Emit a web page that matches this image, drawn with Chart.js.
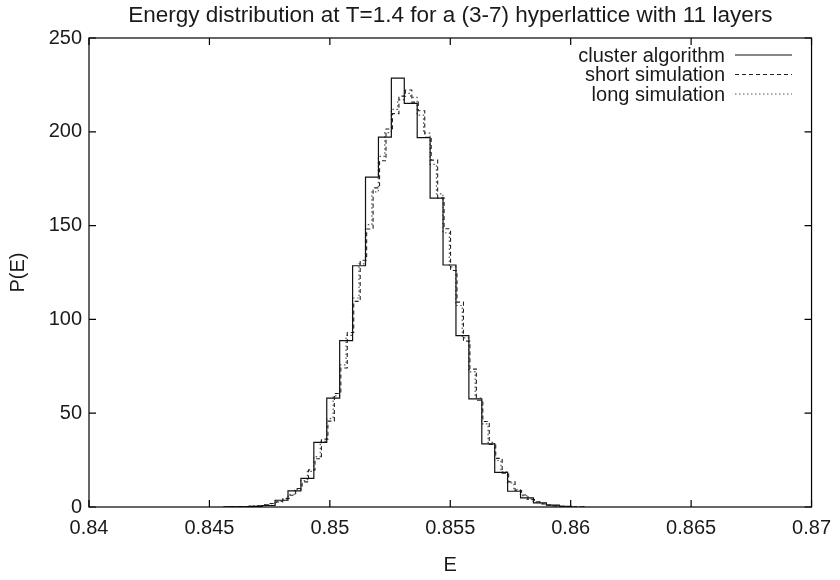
<!DOCTYPE html>
<html>
<head>
<meta charset="utf-8">
<script src="https://cdn.jsdelivr.net/npm/chart.js@4.4.0/dist/chart.umd.min.js"></script>
<style>
  html, body { margin: 0; padding: 0; background: #ffffff; }
  #wrap { width: 840px; height: 580px; }
</style>
</head>
<body>
<div id="wrap"><canvas id="c" width="840" height="580"></canvas></div>
<script>
// ---------------- data ----------------
const chartTitle = 'Energy distribution at T=1.4 for a (3-7) hyperlattice with 11 layers';
const xAxisTitle = 'E';
const yAxisTitle = 'P(E)';
const seriesNames = ['cluster algorithm', 'short simulation', 'long simulation'];

const xTickValues = [0.84, 0.845, 0.85, 0.855, 0.86, 0.865, 0.87];
const xTickLabels = ['0.84', '0.845', '0.85', '0.855', '0.86', '0.865', '0.87'];
const yTickValues = [0, 50, 100, 150, 200, 250];
const yTickLabels = ['0', '50', '100', '150', '200', '250'];

// cluster algorithm: histogram, bin left edge = clusterStart + i*clusterBinWidth
const clusterStart = 0.84558;
const clusterBinWidth = 0.00053646;
const clusterValues = [0.05, 0.1, 0.3, 0.8, 3.6, 8.6, 15.3, 34.5, 58, 88.7, 128.6, 175.8, 197.2,
  228.6, 215.2, 196.9, 164.6, 129, 91.3, 57.6, 33.7, 18.5, 8.4, 4.9, 2.2, 1.0, 0.4];

// short simulation: finer histogram
const shortStart = 0.84590;
const shortBinWidth = 0.000268;
const shortValues = [0.1, 0.1, 0.3, 0.4, 0.7, 1.2, 1.9, 2.7, 4.6, 6.3, 9.9, 13.4, 19.8, 25.7, 36.2,
  45.8, 60.5, 74.1, 93.0, 109.6, 131.5, 148.2, 170.1, 184.6, 201.5, 209.7, 219.0, 222.3, 215.8, 211.2,
  197.1, 184.9, 164.8, 148.3, 126.1, 109.2, 88.4, 73.5, 56.9, 45.6, 33.4, 25.9, 18.0, 13.4, 8.8,
  6.4, 4.0, 2.8, 1.6, 1.1, 0.6, 0.4, 0.2, 0.1, 0.1];

// long simulation: finer histogram
const longStart = 0.84585;
const longBinWidth = 0.000268;
const longValues = [0.1, 0.2, 0.2, 0.5, 0.7, 1.1, 1.8, 3.0, 4.2, 6.8, 9.4, 14.1, 19.0, 26.9, 35.0,
  47.1, 59.2, 75.8, 91.5, 111.4, 129.6, 150.5, 168.0, 186.9, 199.6, 212.0, 217.1, 220.5, 218.3, 208.9,
  199.3, 182.6, 166.9, 146.2, 128.0, 107.4, 90.1, 72.0, 58.1, 44.3, 34.5, 24.8, 18.7, 12.8, 9.3,
  6.0, 4.2, 2.6, 1.8, 1.0, 0.7, 0.4, 0.2, 0.1, 0.1];

// ---------------- helpers ----------------
function stepPoints(start, width, values) {
  const pts = values.map((v, i) => ({ x: start + i * width, y: v }));
  pts.push({ x: start + values.length * width, y: values[values.length - 1] });
  return pts;
}

const FONT = "'Liberation Sans', Arial, Helvetica, sans-serif";
const TEXT = '#1a1a1a';
const styles = [
  { color: '#111111', dash: [], width: 1.2 },
  { color: '#222222', dash: [4, 3], width: 1.1 },
  { color: '#555555', dash: [1.5, 2.5], width: 1.2 }
];

const framePlugin = {
  id: 'frame',
  afterDraw(chart) {
    const ctx = chart.ctx;
    const a = chart.chartArea;
    const xs = chart.scales.x, ys = chart.scales.y;
    ctx.save();
    ctx.strokeStyle = '#000';
    ctx.lineWidth = 1.2;
    ctx.setLineDash([]);
    ctx.strokeRect(a.left, a.top, a.right - a.left, a.bottom - a.top);
    const tl = 7;
    ctx.beginPath();
    xTickValues.forEach(v => {
      const px = xs.getPixelForValue(v);
      ctx.moveTo(px, a.bottom); ctx.lineTo(px, a.bottom - tl);
      ctx.moveTo(px, a.top); ctx.lineTo(px, a.top + tl);
    });
    yTickValues.forEach(v => {
      const py = ys.getPixelForValue(v);
      ctx.moveTo(a.left, py); ctx.lineTo(a.left + tl, py);
      ctx.moveTo(a.right, py); ctx.lineTo(a.right - tl, py);
    });
    ctx.stroke();

    // title
    ctx.fillStyle = TEXT;
    ctx.font = '22.5px ' + FONT;
    ctx.textAlign = 'center';
    ctx.textBaseline = 'middle';
    ctx.fillText(chartTitle, (a.left + a.right) / 2, 16);
    // axis titles
    ctx.font = '20px ' + FONT;
    ctx.fillText(xAxisTitle, (a.left + a.right) / 2, 565);
    ctx.save();
    ctx.translate(18, (a.top + a.bottom) / 2);
    ctx.rotate(-Math.PI / 2);
    ctx.fillText(yAxisTitle, 0, 0);
    ctx.restore();

    // legend (gnuplot style)
    const rows = [55, 74.5, 94];
    ctx.font = '20px ' + FONT;
    ctx.textAlign = 'right';
    seriesNames.forEach((name, i) => {
      ctx.fillStyle = TEXT;
      ctx.fillText(name, 725, rows[i] + 1);
      ctx.beginPath();
      ctx.strokeStyle = styles[i].color;
      ctx.lineWidth = styles[i].width;
      ctx.setLineDash(styles[i].dash);
      ctx.moveTo(735, rows[i]);
      ctx.lineTo(792, rows[i]);
      ctx.stroke();
    });
    ctx.restore();
  }
};

const datasets = [
  stepPoints(clusterStart, clusterBinWidth, clusterValues),
  stepPoints(shortStart, shortBinWidth, shortValues),
  stepPoints(longStart, longBinWidth, longValues)
].map((pts, i) => ({
  label: seriesNames[i],
  data: pts,
  stepped: 'before',
  borderColor: styles[i].color,
  borderWidth: styles[i].width,
  borderDash: styles[i].dash,
  pointRadius: 0,
  fill: false,
  tension: 0
}));

new Chart(document.getElementById('c'), {
  type: 'line',
  data: { datasets },
  plugins: [framePlugin],
  options: {
    responsive: false,
    animation: false,
    devicePixelRatio: 1,
    layout: { padding: { top: 38, right: 24, left: 0, bottom: 0 } },
    plugins: { legend: { display: false }, title: { display: false }, tooltip: { enabled: false } },
    scales: {
      x: {
        type: 'linear',
        min: 0.84, max: 0.87,
        grid: { display: false, drawTicks: false },
        border: { display: false },
        afterBuildTicks: s => { s.ticks = xTickValues.map(v => ({ value: v })); },
        afterFit: s => { s.height = 73; },
        ticks: {
          padding: 9,
          color: TEXT,
          font: { family: FONT, size: 20 },
          callback: (v, i) => xTickLabels[i]
        }
      },
      y: {
        type: 'linear',
        min: 0, max: 250,
        grid: { display: false, drawTicks: false },
        border: { display: false },
        afterBuildTicks: s => { s.ticks = yTickValues.map(v => ({ value: v })); },
        afterFit: s => { s.width = 89; },
        ticks: {
          padding: 7,
          color: TEXT,
          font: { family: FONT, size: 20 },
          callback: (v, i) => yTickLabels[i]
        }
      }
    }
  }
});
</script>
</body>
</html>
